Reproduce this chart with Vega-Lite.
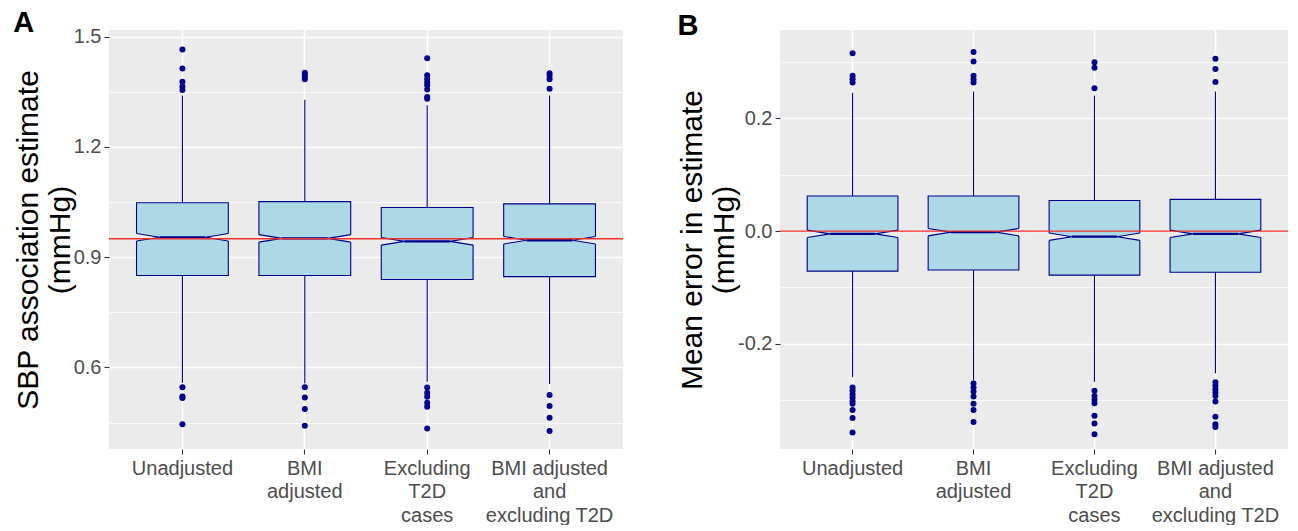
{
  "$schema": "https://vega.github.io/schema/vega-lite/v6.json",
  "padding": {"left": 13, "top": 8, "right": 5, "bottom": 0},
  "background": "white",
  "spacing": 53,
  "config": {
    "view": {"fill": "#EBEBEB", "stroke": null},
    "font": "Liberation Sans",
    "axis": {
      "labelFont": "Liberation Sans",
      "titleFont": "Liberation Sans",
      "labelColor": "#4D4D4D",
      "labelFontSize": 20,
      "tickColor": "#333333",
      "tickSize": 5,
      "tickWidth": 1.1,
      "domain": false,
      "gridColor": "#FFFFFF",
      "titleColor": "#000000",
      "titleFontWeight": "normal",
      "titleFontSize": 30,
      "labelOverlap": false,
      "labelFlush": false
    }
  },
  "datasets": {
    "boxesA": [
      {"group": "Unadjusted", "lower": 0.558, "q1": 0.850, "median": 0.954, "q3": 1.048, "upper": 1.340},
      {"group": "BMI adjusted", "lower": 0.556, "q1": 0.850, "median": 0.951, "q3": 1.051, "upper": 1.328},
      {"group": "Excluding T2D cases", "lower": 0.561, "q1": 0.839, "median": 0.943, "q3": 1.035, "upper": 1.313},
      {"group": "BMI adjusted and excluding T2D", "lower": 0.555, "q1": 0.847, "median": 0.946, "q3": 1.045, "upper": 1.340}
    ],
    "outA": [
      {"group": "Unadjusted", "value": 1.465}, {"group": "Unadjusted", "value": 1.413}, {"group": "Unadjusted", "value": 1.377}, {"group": "Unadjusted", "value": 1.364}, {"group": "Unadjusted", "value": 1.355},
      {"group": "Unadjusted", "value": 0.546}, {"group": "Unadjusted", "value": 0.521}, {"group": "Unadjusted", "value": 0.517}, {"group": "Unadjusted", "value": 0.445},
      {"group": "BMI adjusted", "value": 1.402}, {"group": "BMI adjusted", "value": 1.397}, {"group": "BMI adjusted", "value": 1.391}, {"group": "BMI adjusted", "value": 1.384},
      {"group": "BMI adjusted", "value": 0.546}, {"group": "BMI adjusted", "value": 0.518}, {"group": "BMI adjusted", "value": 0.487}, {"group": "BMI adjusted", "value": 0.441},
      {"group": "Excluding T2D cases", "value": 1.441}, {"group": "Excluding T2D cases", "value": 1.395}, {"group": "Excluding T2D cases", "value": 1.385}, {"group": "Excluding T2D cases", "value": 1.376}, {"group": "Excluding T2D cases", "value": 1.368}, {"group": "Excluding T2D cases", "value": 1.356}, {"group": "Excluding T2D cases", "value": 1.336}, {"group": "Excluding T2D cases", "value": 1.331},
      {"group": "Excluding T2D cases", "value": 0.545}, {"group": "Excluding T2D cases", "value": 0.531}, {"group": "Excluding T2D cases", "value": 0.520}, {"group": "Excluding T2D cases", "value": 0.504}, {"group": "Excluding T2D cases", "value": 0.493}, {"group": "Excluding T2D cases", "value": 0.434},
      {"group": "BMI adjusted and excluding T2D", "value": 1.400}, {"group": "BMI adjusted and excluding T2D", "value": 1.393}, {"group": "BMI adjusted and excluding T2D", "value": 1.384}, {"group": "BMI adjusted and excluding T2D", "value": 1.358},
      {"group": "BMI adjusted and excluding T2D", "value": 0.525}, {"group": "BMI adjusted and excluding T2D", "value": 0.495}, {"group": "BMI adjusted and excluding T2D", "value": 0.463}, {"group": "BMI adjusted and excluding T2D", "value": 0.427}
    ],
    "refA": [{"ref": 0.95}],
    "boxesB": [
      {"group": "Unadjusted", "lower": -0.259, "q1": -0.071, "median": -0.005, "q3": 0.062, "upper": 0.245},
      {"group": "BMI adjusted", "lower": -0.265, "q1": -0.069, "median": -0.002, "q3": 0.062, "upper": 0.247},
      {"group": "Excluding T2D cases", "lower": -0.267, "q1": -0.078, "median": -0.010, "q3": 0.054, "upper": 0.240},
      {"group": "BMI adjusted and excluding T2D", "lower": -0.252, "q1": -0.073, "median": -0.005, "q3": 0.056, "upper": 0.247}
    ],
    "outB": [
      {"group": "Unadjusted", "value": 0.315}, {"group": "Unadjusted", "value": 0.275}, {"group": "Unadjusted", "value": 0.269}, {"group": "Unadjusted", "value": 0.263},
      {"group": "Unadjusted", "value": -0.277}, {"group": "Unadjusted", "value": -0.283}, {"group": "Unadjusted", "value": -0.289}, {"group": "Unadjusted", "value": -0.295}, {"group": "Unadjusted", "value": -0.301}, {"group": "Unadjusted", "value": -0.306}, {"group": "Unadjusted", "value": -0.317}, {"group": "Unadjusted", "value": -0.331}, {"group": "Unadjusted", "value": -0.357},
      {"group": "BMI adjusted", "value": 0.317}, {"group": "BMI adjusted", "value": 0.300}, {"group": "BMI adjusted", "value": 0.275}, {"group": "BMI adjusted", "value": 0.269}, {"group": "BMI adjusted", "value": 0.263},
      {"group": "BMI adjusted", "value": -0.270}, {"group": "BMI adjusted", "value": -0.277}, {"group": "BMI adjusted", "value": -0.284}, {"group": "BMI adjusted", "value": -0.293}, {"group": "BMI adjusted", "value": -0.306}, {"group": "BMI adjusted", "value": -0.317}, {"group": "BMI adjusted", "value": -0.338},
      {"group": "Excluding T2D cases", "value": 0.299}, {"group": "Excluding T2D cases", "value": 0.289}, {"group": "Excluding T2D cases", "value": 0.253},
      {"group": "Excluding T2D cases", "value": -0.283}, {"group": "Excluding T2D cases", "value": -0.292}, {"group": "Excluding T2D cases", "value": -0.299}, {"group": "Excluding T2D cases", "value": -0.305}, {"group": "Excluding T2D cases", "value": -0.327}, {"group": "Excluding T2D cases", "value": -0.341}, {"group": "Excluding T2D cases", "value": -0.360},
      {"group": "BMI adjusted and excluding T2D", "value": 0.305}, {"group": "BMI adjusted and excluding T2D", "value": 0.287}, {"group": "BMI adjusted and excluding T2D", "value": 0.264},
      {"group": "BMI adjusted and excluding T2D", "value": -0.268}, {"group": "BMI adjusted and excluding T2D", "value": -0.274}, {"group": "BMI adjusted and excluding T2D", "value": -0.280}, {"group": "BMI adjusted and excluding T2D", "value": -0.286}, {"group": "BMI adjusted and excluding T2D", "value": -0.292}, {"group": "BMI adjusted and excluding T2D", "value": -0.302}, {"group": "BMI adjusted and excluding T2D", "value": -0.329}, {"group": "BMI adjusted and excluding T2D", "value": -0.342}, {"group": "BMI adjusted and excluding T2D", "value": -0.347}
    ],
    "refB": [{"ref": 0}]
  },
  "hconcat": [
    {
      "width": 514,
      "height": 419,
      "title": {"text": "A", "anchor": "start", "frame": "bounds", "fontSize": 29, "fontWeight": "bold", "color": "#000000", "font": "Liberation Sans", "baseline": "alphabetic", "offset": -34},
      "data": {"name": "boxesA"},
      "layer": [
        {
          "mark": {"type": "bar", "fill": "#ADD8E6", "stroke": "#00008B", "strokeWidth": 1.1, "width": {"band": 0.75}},
          "encoding": {
            "x": {"field": "group", "type": "nominal", "sort": ["Unadjusted", "BMI adjusted", "Excluding T2D cases", "BMI adjusted and excluding T2D"],
              "scale": {"paddingInner": 0, "paddingOuter": 0.1},
              "axis": {"title": null, "labelAngle": 0, "grid": true, "gridWidth": 1.6, "bandPosition": 0.5, "labelLineHeight": 23.5, "labelPadding": 4, "labelBaseline": "top",
                "labelExpr": "datum.value == 'BMI adjusted' ? ['BMI', 'adjusted'] : datum.value == 'Excluding T2D cases' ? ['Excluding', 'T2D', 'cases'] : datum.value == 'BMI adjusted and excluding T2D' ? ['BMI adjusted', 'and', 'excluding T2D'] : datum.value"}},
            "y": {"field": "q1", "type": "quantitative",
              "scale": {"domain": [0.378, 1.518], "nice": false, "zero": false},
              "axis": {"values": [0.45, 0.6, 0.75, 0.9, 1.05, 1.2, 1.35, 1.5],
                "labelExpr": "round(datum.value*100) % 30 == 0 ? format(datum.value, '.1f') : ''",
                "gridWidth": {"condition": {"test": "round(datum.value*100) % 30 != 0", "value": 0.8}, "value": 1.6},
                "tickOpacity": {"condition": {"test": "round(datum.value*100) % 30 != 0", "value": 0}, "value": 1},
                "title": ["SBP association estimate", "(mmHg)"], "titleLineHeight": 32, "titlePadding": -2, "labelPadding": 3}},
            "y2": {"field": "q3"}
          }
        },
        {
          "mark": {"type": "rule", "color": "#00008B", "strokeWidth": 1.1},
          "encoding": {
            "x": {"field": "group", "type": "nominal", "sort": ["Unadjusted", "BMI adjusted", "Excluding T2D cases", "BMI adjusted and excluding T2D"]},
            "y": {"field": "lower", "type": "quantitative"},
            "y2": {"field": "q1"}
          }
        },
        {
          "mark": {"type": "rule", "color": "#00008B", "strokeWidth": 1.1},
          "encoding": {
            "x": {"field": "group", "type": "nominal", "sort": ["Unadjusted", "BMI adjusted", "Excluding T2D cases", "BMI adjusted and excluding T2D"]},
            "y": {"field": "q3", "type": "quantitative"},
            "y2": {"field": "upper"}
          }
        },
        {
          "mark": {"type": "point", "shape": "M 1.15 -0.082 L 1 -0.082 L 0.5 0 L 1 0.082 L 1.15 0.082 Z M -1.15 -0.082 L -1 -0.082 L -0.5 0 L -1 0.082 L -1.15 0.082 Z", "filled": true, "fill": "#EBEBEB", "strokeWidth": 0, "size": 8425, "opacity": 1},
          "encoding": {
            "x": {"field": "group", "type": "nominal", "sort": ["Unadjusted", "BMI adjusted", "Excluding T2D cases", "BMI adjusted and excluding T2D"]},
            "y": {"field": "median", "type": "quantitative"}
          }
        },
        {
          "mark": {"type": "point", "shape": "M 1 -0.082 L 0.5 0 L 1 0.082 M -1 -0.082 L -0.5 0 L -1 0.082", "filled": false, "stroke": "#00008B", "strokeWidth": 1.1, "size": 8425, "opacity": 1},
          "encoding": {
            "x": {"field": "group", "type": "nominal", "sort": ["Unadjusted", "BMI adjusted", "Excluding T2D cases", "BMI adjusted and excluding T2D"]},
            "y": {"field": "median", "type": "quantitative"}
          }
        },
        {
          "mark": {"type": "point", "shape": "M -0.5 0 L 0.5 0", "filled": false, "stroke": "#00008B", "strokeWidth": 2.3, "size": 8425, "opacity": 1},
          "encoding": {
            "x": {"field": "group", "type": "nominal", "sort": ["Unadjusted", "BMI adjusted", "Excluding T2D cases", "BMI adjusted and excluding T2D"]},
            "y": {"field": "median", "type": "quantitative"}
          }
        },
        {
          "data": {"name": "outA"},
          "mark": {"type": "point", "shape": "circle", "filled": true, "color": "#00008B", "size": 36, "opacity": 1},
          "encoding": {
            "x": {"field": "group", "type": "nominal", "sort": ["Unadjusted", "BMI adjusted", "Excluding T2D cases", "BMI adjusted and excluding T2D"]},
            "y": {"field": "value", "type": "quantitative"}
          }
        },
        {
          "data": {"name": "refA"},
          "mark": {"type": "rule", "color": "#F0302A", "strokeWidth": 1.3},
          "encoding": {
            "y": {"field": "ref", "type": "quantitative"}
          }
        }
      ]
    },
    {
      "width": 508,
      "height": 419,
      "title": {"text": "B", "anchor": "start", "frame": "bounds", "fontSize": 29, "fontWeight": "bold", "color": "#000000", "font": "Liberation Sans", "baseline": "alphabetic", "offset": -34},
      "data": {"name": "boxesB"},
      "layer": [
        {
          "mark": {"type": "bar", "fill": "#ADD8E6", "stroke": "#00008B", "strokeWidth": 1.1, "width": {"band": 0.75}},
          "encoding": {
            "x": {"field": "group", "type": "nominal", "sort": ["Unadjusted", "BMI adjusted", "Excluding T2D cases", "BMI adjusted and excluding T2D"],
              "scale": {"paddingInner": 0, "paddingOuter": 0.1},
              "axis": {"title": null, "labelAngle": 0, "grid": true, "gridWidth": 1.6, "bandPosition": 0.5, "labelLineHeight": 23.5, "labelPadding": 4, "labelBaseline": "top",
                "labelExpr": "datum.value == 'BMI adjusted' ? ['BMI', 'adjusted'] : datum.value == 'Excluding T2D cases' ? ['Excluding', 'T2D', 'cases'] : datum.value == 'BMI adjusted and excluding T2D' ? ['BMI adjusted', 'and', 'excluding T2D'] : datum.value"}},
            "y": {"field": "q1", "type": "quantitative",
              "scale": {"domain": [-0.386, 0.356], "nice": false, "zero": false},
              "axis": {"values": [-0.3, -0.2, -0.1, 0, 0.1, 0.2, 0.3],
                "labelExpr": "round(datum.value*10) % 2 == 0 ? (datum.value < -0.001 ? '-' : '') + format(abs(datum.value), '.1f') : ''",
                "gridWidth": {"condition": {"test": "round(datum.value*10) % 2 != 0", "value": 0.8}, "value": 1.6},
                "tickOpacity": {"condition": {"test": "round(datum.value*10) % 2 != 0", "value": 0}, "value": 1},
                "title": ["Mean error in estimate", "(mmHg)"], "titleLineHeight": 32, "titlePadding": -2, "labelPadding": 3}},
            "y2": {"field": "q3"}
          }
        },
        {
          "mark": {"type": "rule", "color": "#00008B", "strokeWidth": 1.1},
          "encoding": {
            "x": {"field": "group", "type": "nominal", "sort": ["Unadjusted", "BMI adjusted", "Excluding T2D cases", "BMI adjusted and excluding T2D"]},
            "y": {"field": "lower", "type": "quantitative"},
            "y2": {"field": "q1"}
          }
        },
        {
          "mark": {"type": "rule", "color": "#00008B", "strokeWidth": 1.1},
          "encoding": {
            "x": {"field": "group", "type": "nominal", "sort": ["Unadjusted", "BMI adjusted", "Excluding T2D cases", "BMI adjusted and excluding T2D"]},
            "y": {"field": "q3", "type": "quantitative"},
            "y2": {"field": "upper"}
          }
        },
        {
          "mark": {"type": "point", "shape": "M 1.15 -0.082 L 1 -0.082 L 0.5 0 L 1 0.082 L 1.15 0.082 Z M -1.15 -0.082 L -1 -0.082 L -0.5 0 L -1 0.082 L -1.15 0.082 Z", "filled": true, "fill": "#EBEBEB", "strokeWidth": 0, "size": 8229, "opacity": 1},
          "encoding": {
            "x": {"field": "group", "type": "nominal", "sort": ["Unadjusted", "BMI adjusted", "Excluding T2D cases", "BMI adjusted and excluding T2D"]},
            "y": {"field": "median", "type": "quantitative"}
          }
        },
        {
          "mark": {"type": "point", "shape": "M 1 -0.082 L 0.5 0 L 1 0.082 M -1 -0.082 L -0.5 0 L -1 0.082", "filled": false, "stroke": "#00008B", "strokeWidth": 1.1, "size": 8229, "opacity": 1},
          "encoding": {
            "x": {"field": "group", "type": "nominal", "sort": ["Unadjusted", "BMI adjusted", "Excluding T2D cases", "BMI adjusted and excluding T2D"]},
            "y": {"field": "median", "type": "quantitative"}
          }
        },
        {
          "mark": {"type": "point", "shape": "M -0.5 0 L 0.5 0", "filled": false, "stroke": "#00008B", "strokeWidth": 2.3, "size": 8229, "opacity": 1},
          "encoding": {
            "x": {"field": "group", "type": "nominal", "sort": ["Unadjusted", "BMI adjusted", "Excluding T2D cases", "BMI adjusted and excluding T2D"]},
            "y": {"field": "median", "type": "quantitative"}
          }
        },
        {
          "data": {"name": "outB"},
          "mark": {"type": "point", "shape": "circle", "filled": true, "color": "#00008B", "size": 36, "opacity": 1},
          "encoding": {
            "x": {"field": "group", "type": "nominal", "sort": ["Unadjusted", "BMI adjusted", "Excluding T2D cases", "BMI adjusted and excluding T2D"]},
            "y": {"field": "value", "type": "quantitative"}
          }
        },
        {
          "data": {"name": "refB"},
          "mark": {"type": "rule", "color": "#F0302A", "strokeWidth": 1.3},
          "encoding": {
            "y": {"field": "ref", "type": "quantitative"}
          }
        }
      ]
    }
  ]
}
